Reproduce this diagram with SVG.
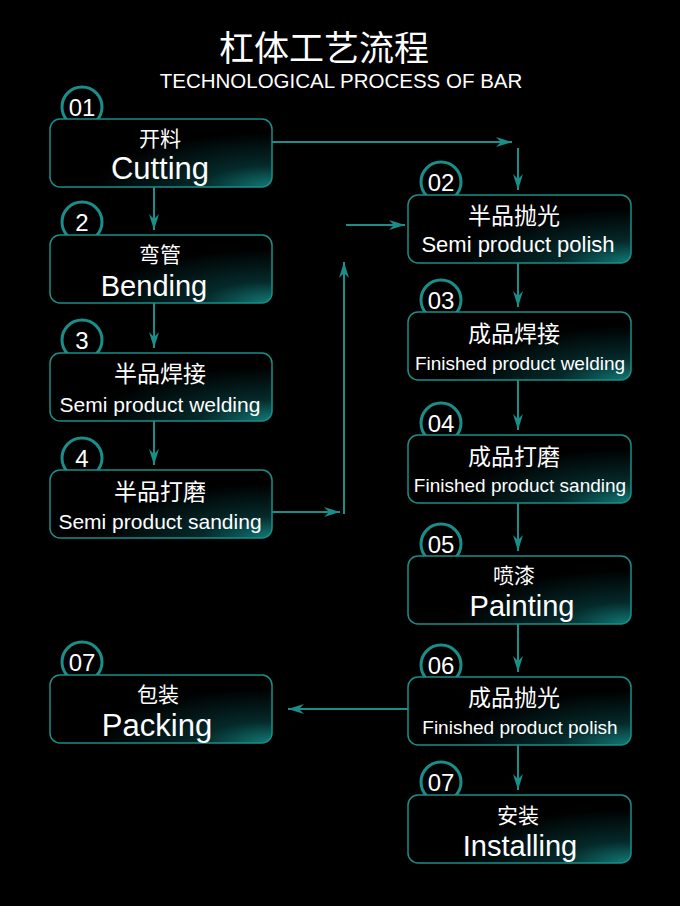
<svg xmlns="http://www.w3.org/2000/svg" width="680" height="906" viewBox="0 0 680 906">
<defs>
<radialGradient id="g" cx="1" cy="1" r="0.8">
<stop offset="0" stop-color="#127a76"/><stop offset="0.4" stop-color="#05292a"/><stop offset="1" stop-color="#000"/>
</radialGradient>
<marker id="a" viewBox="0 0 16 10" refX="16" refY="5" markerWidth="16" markerHeight="10" markerUnits="userSpaceOnUse" orient="auto">
<path d="M0,0 L16,5 L0,10 L5,5 Z" fill="#1a8f8a"/>
</marker>
<style>
.b{fill:url(#g);stroke:#1a8f8a;stroke-width:1.5}
.c{fill:#000;stroke:#1a8f8a;stroke-width:3}
.n{font-family:"Liberation Sans",Arial,sans-serif;font-size:24px;fill:#fff;text-anchor:middle}
.z{font-family:"Noto Sans CJK SC",sans-serif;font-size:23px;fill:#fff;text-anchor:middle}
.s{font-size:21px}
.e{font-family:"Liberation Sans",Arial,sans-serif;fill:#fff;text-anchor:middle}
.l{stroke:#1a8f8a;stroke-width:2;fill:none}
</style>
</defs>
<rect width="680" height="906" fill="#000"/>
<text x="324" y="61" font-family="Noto Sans CJK SC,sans-serif" font-size="35" fill="#fff" text-anchor="middle">杠体工艺流程</text>
<text x="341" y="88" font-family="Liberation Sans,Arial,sans-serif" font-size="20.5" fill="#fff" text-anchor="middle">TECHNOLOGICAL PROCESS OF BAR</text>
<g id="connectors">
<path class="l" d="M272,142 H512" marker-end="url(#a)"/>
<path class="l" d="M518,148 V190" marker-end="url(#a)"/>
<path class="l" d="M154,187 V230" marker-end="url(#a)"/>
<path class="l" d="M154,303 V348" marker-end="url(#a)"/>
<path class="l" d="M154,421 V465" marker-end="url(#a)"/>
<path class="l" d="M272,512 H340" marker-end="url(#a)"/>
<path class="l" d="M344,514 V262" marker-end="url(#a)"/>
<path class="l" d="M346,225 H405" marker-end="url(#a)"/>
<path class="l" d="M518,263 V307" marker-end="url(#a)"/>
<path class="l" d="M518,380 V430" marker-end="url(#a)"/>
<path class="l" d="M518,503 V551" marker-end="url(#a)"/>
<path class="l" d="M518,624 V672" marker-end="url(#a)"/>
<path class="l" d="M518,745 V790" marker-end="url(#a)"/>
<path class="l" d="M408,709 H288" marker-end="url(#a)"/>
</g>
<g id="n01"><circle class="c" cx="82" cy="107" r="20"/><rect class="b" x="50" y="119" width="222" height="68" rx="10"/><text class="n" x="82" y="116">01</text><text class="z s" x="160" y="146">开料</text><text class="e" x="160" y="179" font-size="31">Cutting</text></g>
<g id="n2"><circle class="c" cx="82" cy="222" r="20"/><rect class="b" x="50" y="235" width="222" height="68" rx="10"/><text class="n" x="82" y="231">2</text><text class="z s" x="160" y="262">弯管</text><text class="e" x="154" y="296" font-size="29">Bending</text></g>
<g id="n3"><circle class="c" cx="82" cy="340" r="20"/><rect class="b" x="50" y="353" width="222" height="68" rx="10"/><text class="n" x="82" y="349">3</text><text class="z" x="160" y="382">半品焊接</text><text class="e" x="160" y="412" font-size="21">Semi product welding</text></g>
<g id="n4"><circle class="c" cx="82" cy="458" r="20"/><rect class="b" x="50" y="470" width="222" height="68" rx="10"/><text class="n" x="82" y="467">4</text><text class="z" x="160" y="500">半品打磨</text><text class="e" x="160" y="529" font-size="21">Semi product sanding</text></g>
<g id="n07l"><circle class="c" cx="82" cy="662" r="20"/><rect class="b" x="50" y="675" width="222" height="68" rx="10"/><text class="n" x="82" y="671">07</text><text class="z s" x="158" y="702">包装</text><text class="e" x="157" y="736" font-size="31">Packing</text></g>
<g id="n02"><circle class="c" cx="441" cy="182" r="20"/><rect class="b" x="408" y="195" width="223" height="68" rx="10"/><text class="n" x="441" y="191">02</text><text class="z" x="514" y="224">半品抛光</text><text class="e" x="518" y="252" font-size="22">Semi product polish</text></g>
<g id="n03"><circle class="c" cx="441" cy="300" r="20"/><rect class="b" x="408" y="312" width="223" height="68" rx="10"/><text class="n" x="441" y="309">03</text><text class="z" x="514" y="342">成品焊接</text><text class="e" x="520" y="370" font-size="19">Finished product welding</text></g>
<g id="n04"><circle class="c" cx="441" cy="423" r="20"/><rect class="b" x="408" y="435" width="223" height="68" rx="10"/><text class="n" x="441" y="432">04</text><text class="z" x="514" y="465">成品打磨</text><text class="e" x="520" y="492" font-size="19">Finished product sanding</text></g>
<g id="n05"><circle class="c" cx="441" cy="544" r="20"/><rect class="b" x="408" y="556" width="223" height="68" rx="10"/><text class="n" x="441" y="553">05</text><text class="z s" x="514" y="583">喷漆</text><text class="e" x="522" y="616" font-size="29">Painting</text></g>
<g id="n06"><circle class="c" cx="441" cy="665" r="20"/><rect class="b" x="408" y="677" width="223" height="68" rx="10"/><text class="n" x="441" y="674">06</text><text class="z" x="514" y="706">成品抛光</text><text class="e" x="520" y="734" font-size="19">Finished product polish</text></g>
<g id="n07r"><circle class="c" cx="441" cy="782" r="20"/><rect class="b" x="408" y="795" width="223" height="68" rx="10"/><text class="n" x="441" y="791">07</text><text class="z s" x="518" y="823">安装</text><text class="e" x="520" y="856" font-size="29">Installing</text></g>
</svg>
